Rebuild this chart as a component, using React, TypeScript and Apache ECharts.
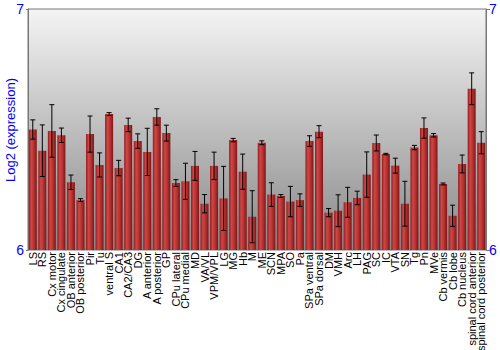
import React, { useEffect, useRef } from "react";
import * as echarts from "echarts";

const categories = [
  "LS", "RS", "Cx motor", "Cx cingulate", "OB anterior", "OB posterior", "Pir", "Tu",
  "ventral S", "CA1", "CA2/CA3", "DG", "A anterior", "A posterior", "GP", "CPu lateral",
  "CPu medial", "MD", "VA/VL", "VPM/VPL", "LG", "MG", "Hb", "M", "ME", "SCN", "MPA", "SO",
  "Pa", "SPa ventral", "SPa dorsal", "DM", "VMH", "Arc", "LH", "PAG", "SC", "IC", "VTA",
  "SN", "Tg", "Pn", "MVe", "Cb vermis", "Cb lobe", "Cb nucleus", "spinal cord anterior",
  "spinal cord posterior",
];

const values = [
  6.50, 6.412, 6.494, 6.476, 6.281, 6.207, 6.481, 6.353,
  6.564, 6.340, 6.519, 6.452, 6.407, 6.552, 6.485, 6.278,
  6.285, 6.349, 6.192, 6.349, 6.214, 6.456, 6.325, 6.138, 6.445, 6.230, 6.224, 6.201,
  6.207, 6.452, 6.491, 6.155, 6.163, 6.198, 6.216, 6.313, 6.444, 6.398, 6.35,
  6.192, 6.425, 6.506, 6.476, 6.274, 6.142, 6.357, 6.669,
  6.445,
];

const errors = [
  0.04, 0.107, 0.109, 0.03, 0.03, 0.006, 0.075, 0.05,
  0.006, 0.032, 0.028, 0.03, 0.098, 0.034, 0.033, 0.014,
  0.075, 0.06, 0.038, 0.057, 0.133, 0.007, 0.073, 0.108, 0.008, 0.049, 0.006, 0.063,
  0.026, 0.022, 0.025, 0.017, 0.066, 0.062, 0.028, 0.094, 0.033, 0.003, 0.031,
  0.093, 0.009, 0.042, 0.007, 0.004, 0.044, 0.037, 0.066,
  0.046,
];

const yTicks = [6, 7];
const yName = "Log2 (expression)";

export default function App() {
  const ref = useRef<HTMLDivElement>(null);
  useEffect(() => {
    if (!ref.current) return;
    const chart = echarts.init(ref.current, null, { renderer: "svg" });
    const errData = values.map((v, i) => [i, v - errors[i], v + errors[i]]);
    const blue = "#0000ff";
    const axisLabelY = {
      color: blue,
      fontSize: 14,
      fontFamily: "Liberation Sans, Arial, sans-serif",
      formatter: (v: number) => (yTicks.includes(v) ? String(v) : ""),
    };
    chart.setOption({
      animation: false,
      graphic: [
        {
          type: "text",
          x: 10,
          y: 130,
          rotation: Math.PI / 2,
          style: {
            text: yName,
            fill: blue,
            fontSize: 13,
            fontFamily: "Liberation Sans, Arial, sans-serif",
            align: "center",
            verticalAlign: "middle",
          },
        },
      ],
      grid: {
        left: 28,
        right: 14,
        top: 9,
        bottom: 100,
        outerBoundsMode: "none",
        containLabel: false,
        show: true,
        borderColor: "#777",
        borderWidth: 1,
        backgroundColor: new echarts.graphic.LinearGradient(0, 0, 0, 1, [
          { offset: 0, color: "#f4f4f4" },
          { offset: 1, color: "#888888" },
        ]),
      },
      xAxis: {
        type: "category",
        data: categories,
        axisLine: { show: false },
        axisTick: { show: false },
        axisLabel: {
          interval: 0,
          rotate: 90,
          color: "#000",
          fontSize: 11,
          margin: 2,
          fontFamily: "Liberation Sans, Arial, sans-serif",
        },
      },
      yAxis: [
        {
          type: "value",
          min: 6,
          max: 7,
          interval: 1,
          axisLine: { show: true, lineStyle: { color: "#777" } },
          axisTick: { show: true, length: 2, lineStyle: { color: "#777" } },
          axisLabel: { ...axisLabelY, margin: 4 },
          splitLine: { show: false },
        },
        {
          type: "value",
          min: 6,
          max: 7,
          interval: 1,
          position: "right",
          axisLine: { show: true, lineStyle: { color: "#777" } },
          axisTick: { show: true, length: 4, lineStyle: { color: "#777" } },
          axisLabel: { ...axisLabelY, margin: 3 },
          splitLine: { show: false },
        },
      ],
      series: [
        {
          type: "bar",
          data: values,
          barCategoryGap: "16%",
          itemStyle: {
            color: new echarts.graphic.LinearGradient(0, 0, 1, 0, [
              { offset: 0, color: "#8e1c1c" },
              { offset: 0.3, color: "#cf4646" },
              { offset: 0.6, color: "#b83434" },
              { offset: 1, color: "#7e1616" },
            ]),
          },
        },
        {
          type: "custom",
          data: errData,
          z: 5,
          renderItem: (params: any, api: any) => {
            const x = api.value(0);
            const lo = api.coord([x, api.value(1)]);
            const hi = api.coord([x, api.value(2)]);
            const cw = 2.5;
            const style = { stroke: "#000", lineWidth: 1 };
            return {
              type: "group",
              children: [
                { type: "line", shape: { x1: lo[0], y1: lo[1], x2: hi[0], y2: hi[1] }, style },
                { type: "line", shape: { x1: lo[0] - cw, y1: lo[1], x2: lo[0] + cw, y2: lo[1] }, style },
                { type: "line", shape: { x1: hi[0] - cw, y1: hi[1], x2: hi[0] + cw, y2: hi[1] }, style },
              ],
            };
          },
        },
      ],
    });
    return () => chart.dispose();
  }, []);
  return (
    <div
      ref={ref}
      style={{ position: "absolute", left: 0, top: 0, width: 500, height: 350 }}
    />
  );
}
